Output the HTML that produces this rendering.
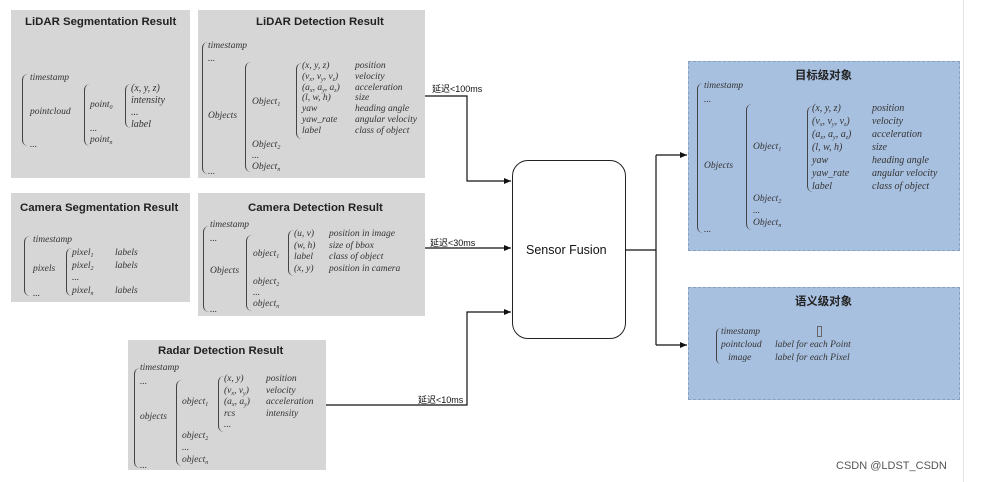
<!DOCTYPE html>
<html><head><meta charset="utf-8"><style>
body{margin:0;width:983px;height:482px;background:#fff;position:relative;overflow:hidden;font-family:"Liberation Serif",serif;}
.box{position:absolute;background:#d6d6d6;}
.blue{position:absolute;background:#a8c0e0;border:1px dashed #8aa0c0;}
.t{position:absolute;font-family:"Liberation Sans","Noto Sans CJK SC",sans-serif;font-weight:bold;font-size:11.4px;color:#222;white-space:nowrap}
.m{position:absolute;font-style:italic;font-size:9.5px;color:#333;white-space:nowrap;line-height:11px}
sub{font-size:6px;line-height:0;vertical-align:-2px}
.b{position:absolute;border-left:1px solid #444;border-radius:6px 0 0 6px;}
.l{position:absolute;font-family:"Liberation Sans","Noto Sans CJK SC",sans-serif;font-size:9px;color:#111;white-space:nowrap}
</style></head><body>
<div class="box" style="left:11px;top:10px;width:179px;height:168px"></div>
<div class="box" style="left:198px;top:10px;width:227px;height:168px"></div>
<div class="box" style="left:11px;top:193px;width:179px;height:109px"></div>
<div class="box" style="left:198px;top:193px;width:227px;height:123px"></div>
<div class="box" style="left:128px;top:340px;width:198px;height:130px"></div>
<div class="blue" style="left:688px;top:61px;width:270px;height:188px"></div>
<div class="blue" style="left:688px;top:287px;width:270px;height:111px"></div>
<div style="position:absolute;left:963px;top:0;width:1px;height:482px;background:#e4e4e4"></div>

<div class="t" style="left:25px;top:16px">LiDAR Segmentation Result</div>
<div class="t" style="left:256px;top:16px">LiDAR Detection Result</div>
<div class="t" style="left:20px;top:202px">Camera Segmentation Result</div>
<div class="t" style="left:248px;top:202px">Camera Detection Result</div>
<div class="t" style="left:158px;top:345px">Radar Detection Result</div>
<div class="t" style="left:795px;top:67px">目标级对象</div>
<div class="t" style="left:795px;top:293px">语义级对象</div>

<!-- LiDAR seg -->
<div class="b" style="left:22px;top:74px;height:72px;width:5px"></div>
<div class="m" style="left:30px;top:73px">timestamp</div>
<div class="m" style="left:30px;top:107px">pointcloud</div>
<div class="m" style="left:30px;top:140px">...</div>
<div class="b" style="left:84px;top:84px;height:62px;width:5px"></div>
<div class="m" style="left:90px;top:100px">point<sub>0</sub></div>
<div class="m" style="left:90px;top:124px">...</div>
<div class="m" style="left:90px;top:135px">point<sub>n</sub></div>
<div class="b" style="left:125px;top:84px;height:44px;width:5px"></div>
<div class="m" style="left:131px;top:83px;line-height:12px;font-size:10px">(x, y, z)<br>intensity<br>...<br>label</div>

<!-- LiDAR det -->
<div class="b" style="left:202px;top:42px;height:132px;width:5px"></div>
<div class="m" style="left:208px;top:41px">timestamp</div>
<div class="m" style="left:208px;top:54px">...</div>
<div class="m" style="left:208px;top:111px">Objects</div>
<div class="m" style="left:208px;top:167px">...</div>
<div class="b" style="left:245px;top:62px;height:110px;width:5px"></div>
<div class="m" style="left:252px;top:97px">Object<sub>1</sub></div>
<div class="m" style="left:252px;top:140px;line-height:11px">Object<sub>2</sub><br>...<br>Object<sub>n</sub></div>
<div class="b" style="left:296px;top:63px;height:76px;width:5px"></div>
<div class="m" style="left:302px;top:61px;line-height:10.8px">(x, y, z)<br>(v<sub>x</sub>, v<sub>y</sub>, v<sub>z</sub>)<br>(a<sub>x</sub>, a<sub>y</sub>, a<sub>z</sub>)<br>(l, w, h)<br>yaw<br>yaw_rate<br>label</div>
<div class="m" style="left:355px;top:61px;line-height:10.8px">position<br>velocity<br>acceleration<br>size<br>heading angle<br>angular velocity<br>class of object</div>

<!-- Camera seg -->
<div class="b" style="left:24px;top:236px;height:60px;width:5px"></div>
<div class="m" style="left:33px;top:235px">timestamp</div>
<div class="m" style="left:33px;top:264px">pixels</div>
<div class="m" style="left:33px;top:289px">...</div>
<div class="b" style="left:66px;top:248px;height:48px;width:5px"></div>
<div class="m" style="left:72px;top:247px;line-height:12.5px">pixel<sub>1</sub><br>pixel<sub>2</sub><br>...<br>pixel<sub>n</sub></div>
<div class="m" style="left:115px;top:247px;line-height:12.5px">labels<br>labels<br><br>labels</div>

<!-- Camera det -->
<div class="b" style="left:203px;top:226px;height:86px;width:5px"></div>
<div class="m" style="left:210px;top:220px">timestamp</div>
<div class="m" style="left:210px;top:234px">...</div>
<div class="m" style="left:210px;top:266px">Objects</div>
<div class="m" style="left:210px;top:305px">...</div>
<div class="b" style="left:246px;top:235px;height:76px;width:5px"></div>
<div class="m" style="left:253px;top:249px">object<sub>1</sub></div>
<div class="m" style="left:253px;top:277px;line-height:11px">object<sub>2</sub><br>...<br>object<sub>n</sub></div>
<div class="b" style="left:288px;top:230px;height:46px;width:5px"></div>
<div class="m" style="left:294px;top:229px;line-height:11.5px">(u, v)<br>(w, h)<br>label<br>(x, y)</div>
<div class="m" style="left:329px;top:229px;line-height:11.5px">position in image<br>size of bbox<br>class of object<br>position in camera</div>

<!-- Radar -->
<div class="b" style="left:134px;top:368px;height:100px;width:5px"></div>
<div class="m" style="left:140px;top:363px">timestamp</div>
<div class="m" style="left:140px;top:377px">...</div>
<div class="m" style="left:140px;top:412px">objects</div>
<div class="m" style="left:140px;top:461px">...</div>
<div class="b" style="left:176px;top:380px;height:86px;width:5px"></div>
<div class="m" style="left:182px;top:397px">object<sub>1</sub></div>
<div class="m" style="left:182px;top:430px;line-height:12px">object<sub>2</sub><br>...<br>object<sub>n</sub></div>
<div class="b" style="left:218px;top:376px;height:56px;width:5px"></div>
<div class="m" style="left:224px;top:374px;line-height:11.5px">(x, y)<br>(v<sub>x</sub>, v<sub>y</sub>)<br>(a<sub>x</sub>, a<sub>y</sub>)<br>rcs<br>...</div>
<div class="m" style="left:266px;top:374px;line-height:11.5px">position<br>velocity<br>acceleration<br>intensity</div>

<!-- Blue 1 -->
<div class="b" style="left:697px;top:83px;height:150px;width:6px"></div>
<div class="m" style="left:704px;top:81px">timestamp</div>
<div class="m" style="left:704px;top:95px">...</div>
<div class="m" style="left:704px;top:161px">Objects</div>
<div class="m" style="left:704px;top:225px">...</div>
<div class="b" style="left:746px;top:104px;height:126px;width:6px"></div>
<div class="m" style="left:753px;top:142px">Object<sub>1</sub></div>
<div class="m" style="left:753px;top:193px;line-height:12px">Object<sub>2</sub><br>...<br>Object<sub>n</sub></div>
<div class="b" style="left:807px;top:106px;height:86px;width:5px"></div>
<div class="m" style="left:812px;top:102px;line-height:13px;font-size:10px">(x, y, z)<br>(v<sub>x</sub>, v<sub>y</sub>, v<sub>z</sub>)<br>(a<sub>x</sub>, a<sub>y</sub>, a<sub>z</sub>)<br>(l, w, h)<br>yaw<br>yaw_rate<br>label</div>
<div class="m" style="left:872px;top:102px;line-height:13px;font-size:10px">position<br>velocity<br>acceleration<br>size<br>heading angle<br>angular velocity<br>class of object</div>

<!-- Blue 2 -->
<div class="b" style="left:716px;top:328px;height:36px;width:4px"></div>
<div class="m" style="left:721px;top:326px;line-height:13px">timestamp<br>pointcloud<br>&nbsp;&nbsp;&nbsp;image</div>
<div class="m" style="left:775px;top:339px;line-height:13px">label for each Point<br>label for each Pixel</div>
<div style="position:absolute;left:817px;top:326px;width:3px;height:9px;border:1px solid #666"></div>

<!-- Sensor fusion -->
<div style="position:absolute;left:512px;top:160px;width:112px;height:177px;border:1px solid #222;border-radius:16px;background:#fff"></div>
<div class="l" style="left:526px;top:243px;font-size:12.5px">Sensor Fusion</div>

<svg style="position:absolute;left:0;top:0" width="983" height="482">
<defs><marker id="a" markerWidth="8" markerHeight="8" refX="7" refY="4" orient="auto" markerUnits="userSpaceOnUse"><path d="M0,1 L7,4 L0,7z" fill="#111"/></marker></defs>
<g stroke="#111" stroke-width="1.2" fill="none">
<path d="M425,96 H467 V181 H511" marker-end="url(#a)"/>
<path d="M425,248 H511" marker-end="url(#a)"/>
<path d="M326,405 H467 V312 H511" marker-end="url(#a)"/>
<path d="M625,250 H656"/>
<path d="M656,155 V345"/>
<path d="M656,155 H687" marker-end="url(#a)"/>
<path d="M656,345 H687" marker-end="url(#a)"/>
</g></svg>
<div class="l" style="left:432px;top:82px">延迟&lt;100ms</div>
<div class="l" style="left:430px;top:236px">延迟&lt;30ms</div>
<div class="l" style="left:418px;top:393px">延迟&lt;10ms</div>
<div class="l" style="left:836px;top:460px;font-size:11px;color:#555">CSDN @LDST_CSDN</div>
</body></html>
